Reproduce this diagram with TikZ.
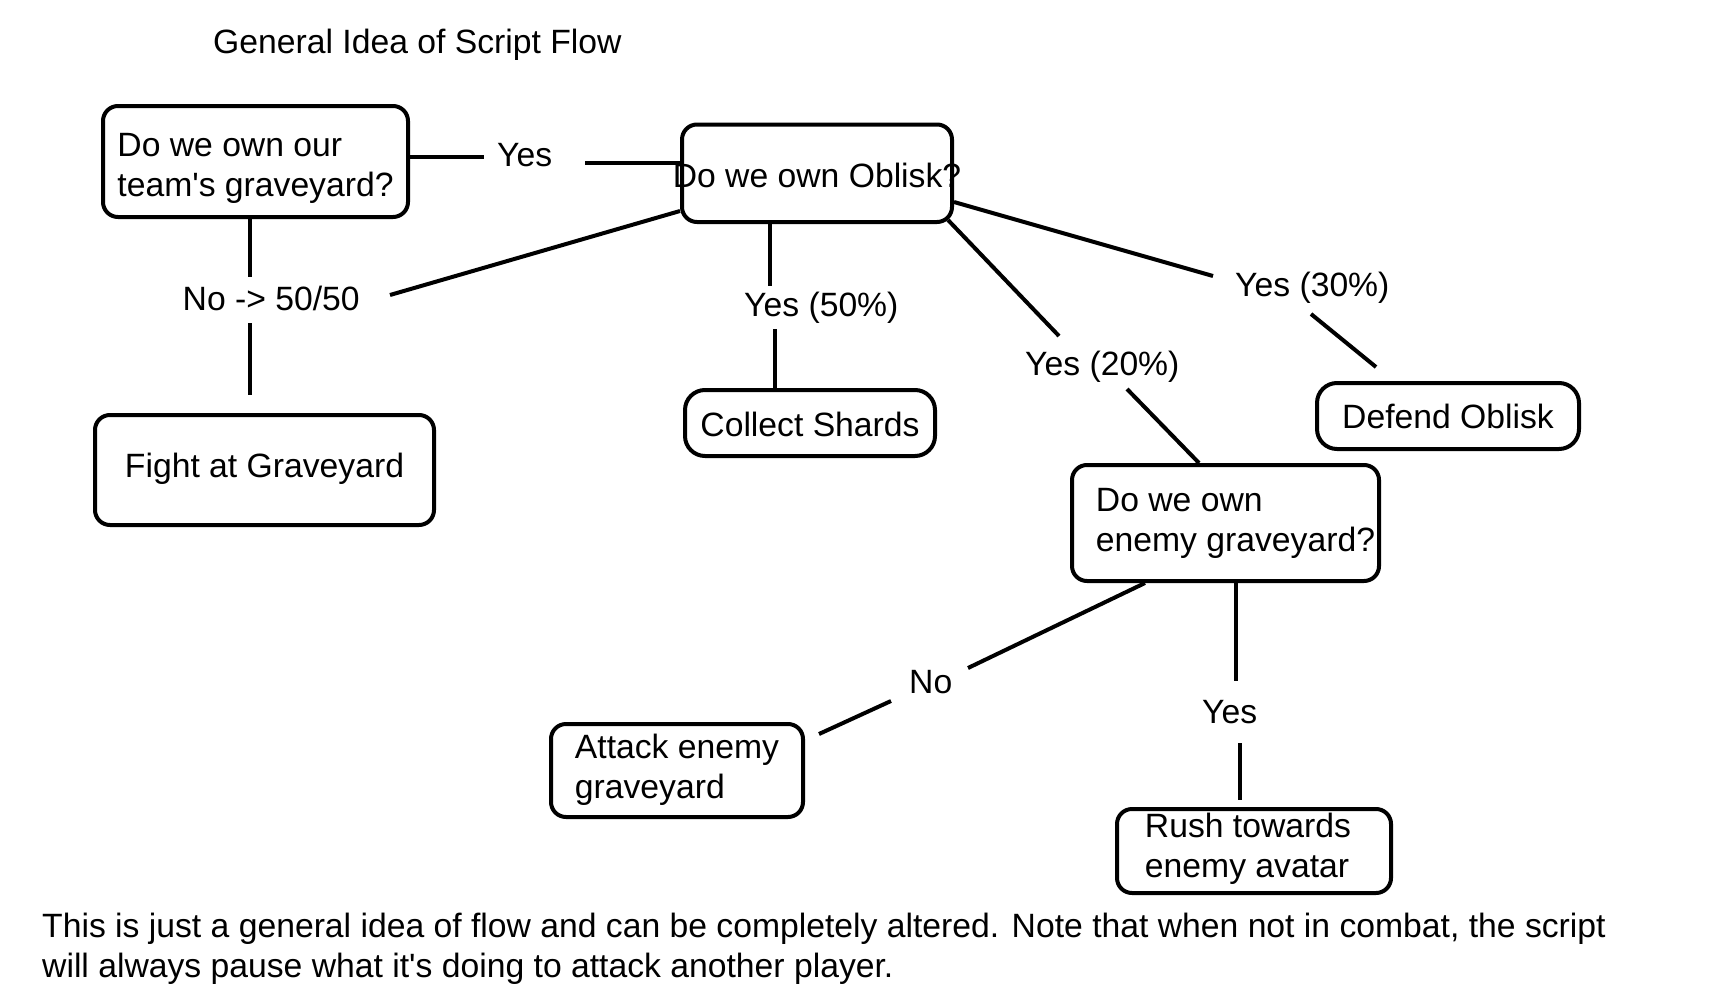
\documentclass[tikz,border=0pt]{standalone}
\usepackage{fontspec}
\setmainfont{Liberation Sans}
\usetikzlibrary{calc}
\begin{document}
\begin{tikzpicture}[x=1pt,y=-1pt,
  every node/.style={font=\fontsize{33.7}{40}\selectfont},
  box/.style={draw, line width=4pt, rounded corners=15pt, inner sep=0pt, align=left},
  lbl/.style={inner sep=0pt, anchor=base west},
  conn/.style={line width=4pt}]
\useasboundingbox[fill=white] (0,0) rectangle (1721,998);

% boxes
\node[box, minimum width=305pt, minimum height=111pt, text height=69pt, text depth=0pt] (box1) at (255.5,161.5) {Do we own our\\team\textquotesingle s graveyard?};
\node[box, minimum width=270pt, minimum height=97.5pt, text height=27.5pt, text depth=0pt] (box2) at (817,173.25) {\makebox[270pt][c]{Do we own Oblisk?}};
\node[box, minimum width=339pt, minimum height=110pt, text height=14pt, text depth=0pt] (fight) at (264.5,470) {Fight at Graveyard};
\node[box, rounded corners=20pt, minimum width=250pt, minimum height=66pt, text height=26pt, text depth=0pt] (collect) at (810,423) {Collect Shards};
\node[box, rounded corners=20pt, minimum width=262pt, minimum height=66pt, text height=24pt, text depth=0pt] (defend) at (1448,416) {Defend Oblisk};
\node[box, minimum width=307pt, minimum height=116pt, text height=56pt, text depth=0pt] (enemy) at (1225.5,523) {\hspace*{20pt}Do we own\\\hspace*{20pt}enemy graveyard?};
\node[box, minimum width=252pt, minimum height=93pt, text height=55pt, text depth=0pt] (attack) at (677,770.5) {Attack enemy\\graveyard};
\node[box, minimum width=274pt, minimum height=84pt, text height=52pt, text depth=0pt] (rush) at (1254,851) {Rush towards\hspace*{12pt}\\enemy avatar\hspace*{12pt}};

% labels
\node[lbl] (title) at (213,54) {General Idea of Script Flow};
\node[lbl] (yes1) at (497,166) {Yes};
\node[lbl] (no50) at (182.5,310.5) {No -> 50/50};
\node[lbl] (yes50) at (744,316) {Yes (50\%)};
\node[lbl] (yes30) at (1235,296) {Yes (30\%)};
\node[lbl] (yes20) at (1025,375) {Yes (20\%)};
\node[lbl] (no2) at (909,693) {No};
\node[lbl] (yes2) at (1202,723) {Yes};
\node[lbl, align=left] (note) at (42,977) {This is just a general idea of flow and can be completely altered. Note that when not in combat, the script\\will always pause what it\textquotesingle s doing to attack another player.};

% connector end points near labels
\coordinate (c1a) at ($(yes1.base west)+(-13,-9)$);
\coordinate (c1b) at ($(yes1.base west)+(88,-3.5)$);
\coordinate (c3a) at ($(no50.base west)+(67.5,-33.5)$);
\coordinate (c3b) at ($(no50.base west)+(67.5,12.5)$);
\coordinate (c3c) at ($(fight.north)+(-14.5,-18)$);
\coordinate (c5a) at ($(no50.base west)+(207.5,-15.5)$);
\coordinate (c6a) at ($(yes50.base west)+(26,-30)$);
\coordinate (c6b) at ($(yes50.base west)+(31,13)$);
\coordinate (c7a) at ($(yes30.base west)+(-22,-20)$);
\coordinate (c7b) at ($(yes30.base west)+(76,18)$);
\coordinate (c7c) at ($(defend.north west)+(61,-14)$);
\coordinate (c8a) at ($(yes20.base west)+(34,-39)$);
\coordinate (c8b) at ($(yes20.base west)+(102,14)$);
\coordinate (c9a) at ($(no2.base west)+(59,-25)$);
\coordinate (c9b) at ($(no2.base west)+(-18,8)$);
\coordinate (c9c) at ($(attack.north east)+(14,12)$);
\coordinate (c10a) at ($(yes2.base west)+(34,-42)$);
\coordinate (c10b) at ($(yes2.base west)+(38,20)$);
\coordinate (c10c) at ($(rush.north)+(-14,-7)$);

% connectors
\draw[conn] (box1.east |- c1a) -- (c1a);
\draw[conn] (c1b) -- (c1b -| box2.west);
\draw[conn] (box1.south -| c3a) -- (c3a);
\draw[conn] (c3b) -- (c3c);
\draw[conn] (c5a) -- ($(box2.south west)+(0,-13)$);
\draw[conn] (box2.south -| c6a) -- (c6a);
\draw[conn] (c6b) -- (collect.north -| c6b);
\draw[conn] ($(box2.south east)+(0,-22)$) -- (c7a);
\draw[conn] (c7b) -- (c7c);
\draw[conn] ($(box2.south east)+(-6,-4)$) -- (c8a);
\draw[conn] (c8b) -- ($(enemy.north)+(-26.5,0)$);
\draw[conn] ($(enemy.south)+(-80.5,0)$) -- (c9a);
\draw[conn] (c9b) -- (c9c);
\draw[conn] (enemy.south -| c10a) -- (c10a);
\draw[conn] (c10b) -- (c10c);
\end{tikzpicture}
\end{document}
